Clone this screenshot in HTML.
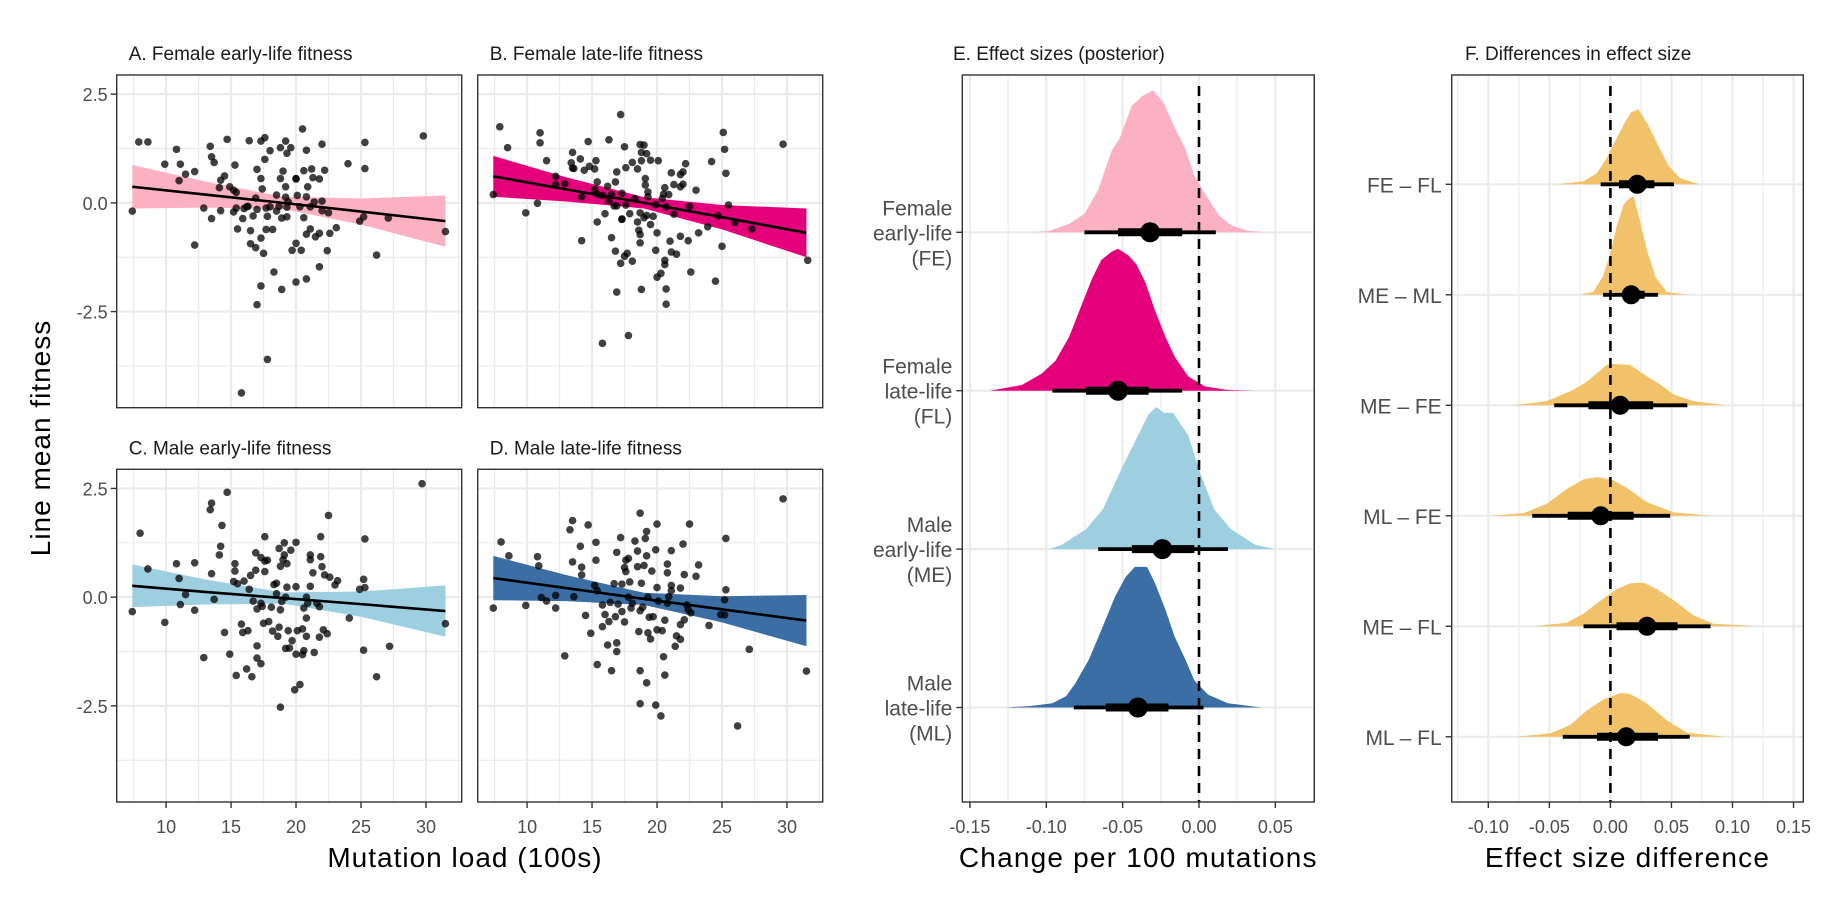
<!DOCTYPE html>
<html><head><meta charset="utf-8"><style>
html,body{margin:0;padding:0;background:#fff;}
svg{display:block;font-family:"Liberation Sans",sans-serif;}
</style></head><body>
<svg id="fig" width="1833" height="902" viewBox="0 0 1833 902" xmlns="http://www.w3.org/2000/svg"></svg>
<script>
// ---------- DATA ----------
const ptsA = [[7.4,-0.19],[7.9,1.40],[8.6,1.40],[9.9,0.89],[10.8,1.23],[11.1,0.89],[11.0,0.51],[11.5,0.66],[12.2,0.72],[12.2,-0.97],[12.9,-0.12],[13.4,1.30],[13.5,1.06],[13.7,0.93],[13.5,-0.36],[14.1,0.35],[14.2,0.52],[14.5,0.62],[14.2,-0.18],[14.7,1.46],[14.9,0.37],[15.2,0.29],[15.3,0.87],[15.4,0.24],[15.2,-0.21],[15.4,-0.12],[15.5,-0.60],[15.9,-0.36],[16.0,-0.13],[16.2,-0.09],[16.4,1.43],[16.3,-0.08],[16.5,-0.64],[16.5,-0.94],[16.7,-0.30],[16.9,-1.03],[17.0,-0.15],[16.9,0.11],[17.0,0.77],[17.3,1.42],[17.3,0.56],[17.4,0.32],[17.6,1.50],[17.6,1.00],[17.5,-1.16],[17.3,-0.81],[17.7,-0.12],[17.8,-0.31],[17.7,-0.61],[18.2,-0.61],[18.0,1.20],[18.0,-0.09],[18.3,-1.59],[18.5,-0.19],[18.5,0.18],[18.7,-0.08],[18.8,0.56],[18.8,1.27],[18.9,-0.35],[18.9,-1.99],[19.0,0.73],[19.2,1.42],[19.2,0.37],[19.2,0.13],[19.3,-0.10],[19.3,-0.32],[19.3,1.14],[19.4,0.02],[19.6,1.27],[19.7,-1.09],[20.0,-0.93],[20.0,-1.82],[20.0,0.55],[20.1,0.17],[20.3,-0.09],[20.4,-1.09],[20.5,1.70],[20.6,-0.34],[20.6,0.74],[20.8,-1.75],[20.8,1.21],[20.8,-0.72],[20.8,0.14],[20.9,0.37],[21.1,-0.09],[21.1,-0.60],[21.2,0.78],[21.3,0.58],[21.4,0.02],[21.5,-0.78],[21.8,0.55],[21.8,-0.70],[21.8,-1.47],[22.0,0.04],[22.0,1.35],[22.0,-0.18],[22.2,0.75],[22.4,-1.10],[22.5,-0.23],[22.6,-0.70],[23.1,-0.57],[24.0,0.90],[24.9,-0.42],[25.2,-0.32],[25.3,1.39],[25.3,0.79],[26.2,-1.20],[27.1,-0.35],[17.3,-1.91],[17.0,-2.34],[20.0,0.56],[15.8,-4.37],[17.8,-3.6],[29.8,1.54],[31.5,-0.66]];
const ptsB = [[7.4,0.19],[7.9,1.75],[8.5,1.27],[9.9,-0.23],[10.8,-0.01],[11.0,1.38],[11.0,1.61],[11.5,0.97],[12.2,0.61],[12.2,0.42],[12.9,0.44],[13.4,0.92],[13.5,1.16],[13.5,0.80],[13.6,0.79],[14.1,1.01],[14.2,0.14],[14.2,-0.87],[14.4,0.75],[14.7,1.41],[14.8,0.84],[15.2,0.78],[15.3,0.97],[15.2,0.31],[15.4,0.48],[15.4,0.20],[15.4,-0.44],[15.8,0.17],[16.0,-0.25],[16.2,0.38],[16.3,0.05],[16.3,1.45],[16.5,0.19],[16.5,-0.80],[16.7,-0.07],[16.8,0.48],[16.8,-1.11],[16.9,0.71],[16.9,-0.07],[16.9,-2.05],[17.2,2.03],[17.3,-0.37],[17.2,-1.39],[17.3,0.22],[17.3,-0.38],[17.5,-1.23],[17.5,1.29],[17.6,0.81],[17.6,-0.05],[17.7,-1.16],[17.8,-3.05],[17.9,-0.25],[18.1,0.93],[18.1,-1.34],[18.3,0.10],[18.5,0.78],[18.5,-0.44],[18.6,-0.63],[18.7,-0.73],[18.7,-0.92],[18.7,1.34],[18.7,-0.23],[18.8,1.16],[18.8,0.97],[18.8,-1.99],[19.0,1.33],[19.0,-0.34],[19.1,0.56],[19.1,0.41],[19.2,1.13],[19.2,-0.29],[19.3,0.14],[19.3,0.25],[19.5,-0.50],[19.5,0.98],[19.7,-0.31],[19.9,-1.09],[19.9,-0.04],[20.0,-1.71],[20.0,-0.69],[20.1,0.97],[20.3,-1.62],[20.4,0.10],[20.5,0.20],[20.6,0.35],[20.6,-1.32],[20.6,-1.42],[20.7,-1.98],[20.7,-2.33],[20.7,-0.09],[20.9,0.19],[21.0,-0.88],[21.1,-1.13],[21.1,0.69],[21.3,-0.26],[21.3,0.42],[21.5,-1.18],[21.8,0.37],[21.8,-0.77],[21.8,0.65],[22.0,0.43],[22.0,0.71],[22.2,0.90],[22.4,-0.87],[22.5,-0.08],[22.6,-1.59],[23.0,0.29],[23.2,-0.69],[15.8,-3.23],[25.1,1.62],[25.2,1.23],[24.7,-0.30],[24.2,0.95],[23.9,-0.55],[25.3,0.68],[25.5,-0.05],[26.0,-0.45],[24.5,-1.8],[29.7,1.35],[31.6,-1.32],[27.3,-0.6],[25.0,-1.0]];
const ptsC = [[7.4,-0.33],[8.0,1.47],[8.6,0.65],[9.9,-0.58],[10.8,0.77],[11.0,0.43],[11.1,-0.17],[11.5,0.06],[12.2,0.79],[12.2,-0.30],[12.9,-1.39],[13.5,2.16],[13.4,2.01],[13.5,0.54],[13.7,-0.05],[14.1,0.97],[14.2,1.17],[14.3,1.65],[14.5,-0.81],[14.7,2.41],[14.9,-1.31],[15.2,0.36],[15.3,0.77],[15.3,0.60],[15.4,-1.80],[15.5,0.31],[15.8,-0.62],[15.9,-0.81],[16.0,0.37],[16.2,-1.65],[16.3,-0.77],[16.4,0.18],[16.5,0.50],[16.6,-1.83],[16.7,-0.09],[16.9,0.62],[16.9,1.02],[17.0,-1.12],[17.0,-0.27],[17.0,-1.40],[17.3,0.91],[17.3,-1.53],[17.3,-0.14],[17.4,-0.21],[17.5,-0.60],[17.6,0.83],[17.6,1.39],[17.6,0.59],[17.8,0.85],[17.9,-0.56],[18.1,-0.23],[18.2,-0.78],[18.3,0.29],[18.5,0.32],[18.5,0.08],[18.6,-0.90],[18.7,1.12],[18.7,-0.69],[18.8,-2.53],[18.8,-0.29],[18.8,0.71],[18.9,-0.10],[19.0,0.86],[19.1,0.97],[19.1,1.25],[19.2,-1.18],[19.2,0.00],[19.3,0.77],[19.3,0.23],[19.4,-0.77],[19.5,-1.17],[19.6,1.08],[19.7,-1.00],[19.9,-2.13],[20.0,1.26],[20.0,0.24],[20.0,-1.31],[20.1,-0.77],[20.3,-2.01],[20.5,-1.32],[20.5,-0.73],[20.6,-0.25],[20.6,-1.23],[20.8,0.00],[20.8,-0.90],[20.8,-0.48],[20.9,-0.14],[21.1,0.97],[21.1,0.86],[21.1,0.25],[21.3,0.56],[21.4,-1.27],[21.6,-0.14],[21.8,-0.92],[21.8,-0.22],[21.9,0.93],[21.9,1.39],[22.0,0.70],[22.1,-0.75],[22.2,0.51],[22.4,-0.84],[22.5,1.88],[22.6,0.46],[23.0,0.28],[23.2,0.38],[24.1,-0.48],[24.9,0.18],[25.2,-1.22],[25.2,0.41],[25.3,0.22],[25.3,1.34],[26.2,-1.83],[27.2,-1.13],[29.7,2.61],[31.5,-0.61]];
const ptsD = [[7.4,-0.25],[8.0,1.27],[8.6,0.95],[9.9,-0.19],[10.8,0.93],[10.9,0.72],[11.1,-0.01],[11.5,-0.09],[12.2,0.04],[12.2,-0.25],[12.9,-1.35],[13.5,1.76],[13.3,1.55],[13.5,0.81],[13.6,0.01],[14.1,1.17],[14.2,0.69],[14.2,0.51],[14.5,-0.42],[14.7,1.66],[14.9,-0.83],[15.2,0.27],[15.3,1.26],[15.3,0.85],[15.4,-1.55],[15.4,0.15],[15.8,-0.18],[15.8,-0.68],[16.0,-0.40],[16.2,-1.10],[16.3,-0.56],[16.4,-0.12],[16.5,-1.69],[16.7,0.31],[16.9,1.03],[16.8,-0.45],[16.9,-1.05],[16.9,-1.25],[17.0,-0.16],[17.2,1.37],[17.3,-0.33],[17.3,0.30],[17.5,-0.57],[17.5,0.68],[17.6,0.59],[17.6,0.85],[17.8,0.89],[17.8,0.00],[17.9,0.35],[18.0,-0.25],[18.1,-0.14],[18.3,1.29],[18.5,0.70],[18.5,1.06],[18.6,-0.79],[18.7,-1.69],[18.7,-0.31],[18.7,1.93],[18.7,-2.45],[18.8,0.32],[18.9,-0.23],[19.0,0.73],[19.1,1.35],[19.2,-1.97],[19.2,0.95],[19.2,1.51],[19.3,0.00],[19.3,-0.82],[19.4,-0.46],[19.5,-0.96],[19.6,0.60],[19.7,-0.45],[19.9,-2.48],[19.9,1.09],[20.0,1.68],[20.0,0.22],[20.0,-0.75],[20.1,-0.09],[20.3,-2.73],[20.4,-0.77],[20.5,-1.37],[20.6,-0.53],[20.6,-1.79],[20.8,0.76],[20.8,0.56],[20.8,-0.14],[20.9,0.01],[21.1,0.15],[21.1,1.07],[21.1,0.27],[21.4,-1.13],[21.5,-0.89],[21.8,-0.63],[21.8,0.21],[21.8,-0.97],[22.0,1.22],[22.1,0.52],[22.1,-0.52],[22.3,-0.18],[22.4,-0.29],[22.5,1.68],[22.6,-0.36],[23.0,0.48],[23.2,0.74],[24.0,-0.65],[24.9,-0.40],[25.2,-0.41],[25.2,-0.06],[25.3,0.17],[25.3,1.35],[26.2,-2.96],[27.1,-1.20],[29.7,2.26],[31.5,-1.70]];

const fitX = [7.4,13,19,25,31.5];
const fitA = [0.37,0.19,0.0,-0.2,-0.42];   const bandA = [0.5,0.3,0.14,0.3,0.59];
const fitB = [0.61,0.31,0.0,-0.33,-0.69];  const bandB = [0.47,0.28,0.13,0.28,0.56];
const fitC = [0.26,0.12,-0.02,-0.16,-0.32]; const bandC = [0.49,0.29,0.13,0.29,0.59];
const fitD = [0.44,0.21,-0.04,-0.28,-0.54]; const bandD = [0.51,0.3,0.14,0.3,0.59];

const xTicksScatter = [10,15,20,25,30];
const yTicksScatter = [2.5,0.0,-2.5];
const yTickLabelsScatter = ["2.5","0.0","-2.5"];

// Panel E
const effCats = [["Female","early-life","(FE)"],["Female","late-life","(FL)"],["Male","early-life","(ME)"],["Male","late-life","(ML)"]];
const effDensX = [
 [-0.109,-0.098,-0.085,-0.075,-0.066,-0.057,-0.052,-0.044,-0.037,-0.030,-0.023,-0.016,-0.009,-0.003,0.004,0.013,0.021,0.032,0.045],
 [-0.137,-0.116,-0.103,-0.094,-0.085,-0.077,-0.070,-0.064,-0.057,-0.053,-0.046,-0.041,-0.035,-0.029,-0.022,-0.016,-0.007,0.004,0.019,0.037],
 [-0.098,-0.090,-0.074,-0.063,-0.051,-0.040,-0.033,-0.028,-0.023,-0.017,-0.012,-0.007,0.001,0.010,0.021,0.037,0.050],
 [-0.127,-0.111,-0.096,-0.087,-0.081,-0.072,-0.063,-0.055,-0.048,-0.042,-0.034,-0.029,-0.022,-0.016,-0.009,-0.003,0.006,0.019,0.041]];
const effDensY = [
 [0,0.01,0.06,0.13,0.30,0.58,0.66,0.89,0.96,1.0,0.91,0.74,0.59,0.40,0.27,0.12,0.05,0.01,0],
 [0,0.04,0.12,0.21,0.38,0.60,0.79,0.92,0.98,1.0,0.95,0.89,0.76,0.57,0.38,0.24,0.10,0.03,0.005,0],
 [0,0.03,0.14,0.28,0.56,0.8,0.95,1.0,0.96,0.96,0.88,0.8,0.53,0.28,0.14,0.03,0],
 [0,0.01,0.03,0.08,0.17,0.34,0.57,0.78,0.92,0.99,0.99,0.88,0.69,0.50,0.34,0.19,0.09,0.03,0]];
const effMedian = [-0.032,-0.053,-0.024,-0.040];
const effLo66 = [-0.053,-0.074,-0.044,-0.061];
const effHi66 = [-0.011,-0.033,-0.003,-0.020];
const effLo95 = [-0.075,-0.096,-0.066,-0.082];
const effHi95 = [0.011,-0.011,0.019,0.003];
const effColors = ["#fbb1c2","#e4007a","#9ecfe0","#3a6ea5"];
const effTicks = [-0.15,-0.10,-0.05,0.00,0.05];
const effTickLabels = ["-0.15","-0.10","-0.05","0.00","0.05"];

// Panel F
const difCats = ["FE – FL","ME – ML","ME – FE","ML – FE","ME – FL","ML – FL"];
const difDensX = [
 [-0.044,-0.022,-0.011,-0.003,0.005,0.012,0.017,0.023,0.031,0.039,0.048,0.057,0.073],
 [-0.025,-0.014,-0.006,0,0.005,0.011,0.016,0.019,0.024,0.030,0.037,0.046,0.063],
 [-0.080,-0.052,-0.030,-0.019,-0.003,0.002,0.016,0.030,0.041,0.052,0.068,0.095],
 [-0.099,-0.071,-0.052,-0.036,-0.022,-0.011,0.002,0.013,0.030,0.052,0.084],
 [-0.063,-0.036,-0.022,-0.008,0.005,0.016,0.027,0.038,0.052,0.068,0.084,0.120],
 [-0.077,-0.049,-0.033,-0.019,-0.006,0.008,0.016,0.030,0.046,0.063,0.095]];
const difDensY = [
 [0,0.04,0.15,0.35,0.61,0.83,0.96,1,0.79,0.52,0.24,0.08,0],
 [0,0.03,0.19,0.42,0.69,0.92,0.98,1.0,0.76,0.45,0.18,0.03,0],
 [0,0.10,0.38,0.58,0.98,1,0.98,0.70,0.50,0.26,0.10,0],
 [0,0.07,0.31,0.69,0.94,1,0.92,0.73,0.35,0.09,0],
 [0,0.08,0.29,0.59,0.85,0.98,1,0.85,0.59,0.25,0.06,0],
 [0,0.08,0.27,0.61,0.85,1,0.98,0.76,0.38,0.09,0]];
const difPeak = [0.60,0.79,0.33,0.31,0.35,0.35];
const difMedian = [0.022,0.017,0.008,-0.008,0.030,0.013];
const difLo66 = [0.007,0.010,-0.018,-0.035,0.005,-0.011];
const difHi66 = [0.036,0.028,0.035,0.019,0.055,0.039];
const difLo95 = [-0.008,-0.006,-0.046,-0.064,-0.022,-0.039];
const difHi95 = [0.052,0.039,0.063,0.049,0.082,0.065];
const difTicks = [-0.10,-0.05,0.00,0.05,0.10,0.15];
const difTickLabels = ["-0.10","-0.05","0.00","0.05","0.10","0.15"];

// ---------- RENDER ----------
const NS = "http://www.w3.org/2000/svg";
const svg = document.getElementById("fig");
function mk(tag, attrs, parent){
  const e = document.createElementNS(NS, tag);
  for (const k in attrs) e.setAttribute(k, attrs[k]);
  (parent||svg).appendChild(e);
  return e;
}
function txt(s, x, y, size, anchor, fill, parent){
  const t = mk("text", {x:x, y:y, "font-size":size, "text-anchor":anchor||"middle", fill:fill||"#4d4d4d"}, parent);
  t.textContent = s;
  return t;
}
const GRID = "#ebebeb";

function scatterPanel(cfg){
  const g = mk("g", {});
  
  
  const {x0,y0,w,h} = cfg;
  const xd=[6.2,32.75], yd=[-4.71,2.94];
  const sx = v => x0 + (v-xd[0])/(xd[1]-xd[0])*w;
  const sy = v => y0 + h - (v-yd[0])/(yd[1]-yd[0])*h;
  [7.5,12.5,17.5,22.5,27.5,32.5].forEach(v=>mk("line",{x1:sx(v),x2:sx(v),y1:y0,y2:y0+h,stroke:GRID,"stroke-width":1.2},g));
  [1.25,-1.25,-3.75].forEach(v=>mk("line",{x1:x0,x2:x0+w,y1:sy(v),y2:sy(v),stroke:GRID,"stroke-width":1.2},g));
  xTicksScatter.forEach(v=>mk("line",{x1:sx(v),x2:sx(v),y1:y0,y2:y0+h,stroke:GRID,"stroke-width":2.2},g));
  yTicksScatter.forEach(v=>mk("line",{x1:x0,x2:x0+w,y1:sy(v),y2:sy(v),stroke:GRID,"stroke-width":2.2},g));
  let d = "";
  fitX.forEach((v,i)=>{ d += (i?"L":"M")+sx(v)+","+sy(cfg.fit[i]+cfg.band[i]); });
  for (let i=fitX.length-1;i>=0;i--) d += "L"+sx(fitX[i])+","+sy(cfg.fit[i]-cfg.band[i]);
  const band = mk("path",{d:d+"Z",fill:cfg.color},g);
  
  
  cfg.pts.forEach(p=>{
    const c = mk("circle",{cx:sx(p[0]),cy:sy(p[1]),r:3.8,fill:"#000","fill-opacity":0.75},g);
    
    
  });
  let ld = "";
  fitX.forEach((v,i)=>{ ld += (i?"L":"M")+sx(v)+","+sy(cfg.fit[i]); });
  const ln = mk("path",{d:ld,fill:"none",stroke:"#000","stroke-width":2.6},g);
  
  
  mk("rect",{x:x0,y:y0,width:w,height:h,fill:"none",stroke:"#333","stroke-width":1.4},g);
  const tt = txt(cfg.title, x0+12, y0-15, 19, "start", "#1a1a1a", g);
  
  
  if (cfg.yLabels){
    yTicksScatter.forEach((v,i)=>{
      mk("line",{x1:x0-6,x2:x0,y1:sy(v),y2:sy(v),stroke:"#333","stroke-width":1.4},g);
      const t = txt(yTickLabelsScatter[i], x0-9, sy(v)+7, 18, "end", "#4d4d4d", g);
      
      
    });
  }
  if (cfg.xLabels){
    xTicksScatter.forEach(v=>{
      mk("line",{x1:sx(v),x2:sx(v),y1:y0+h,y2:y0+h+6,stroke:"#333","stroke-width":1.4},g);
      const t = txt(String(v), sx(v), y0+h+31, 18, "middle", "#4d4d4d", g);
      
      
    });
  }
}
scatterPanel({name:"panel-a",x0:116.7,y0:75,w:345,h:332.7,pts:ptsA,fit:fitA,band:bandA,color:"#fbb1c2",title:"A. Female early-life fitness",yLabels:true,xLabels:false});
scatterPanel({name:"panel-b",x0:477.7,y0:75,w:345,h:332.7,pts:ptsB,fit:fitB,band:bandB,color:"#e4007a",title:"B. Female late-life fitness",yLabels:false,xLabels:false});
scatterPanel({name:"panel-c",x0:116.7,y0:469.3,w:345,h:332.7,pts:ptsC,fit:fitC,band:bandC,color:"#9ecfe0",title:"C. Male early-life fitness",yLabels:true,xLabels:true});
scatterPanel({name:"panel-d",x0:477.7,y0:469.3,w:345,h:332.7,pts:ptsD,fit:fitD,band:bandD,color:"#3a6ea5",title:"D. Male late-life fitness",yLabels:false,xLabels:true});

const yt = txt("Line mean fitness", 0, 0, 28, "middle", "#000");
yt.setAttribute("transform","translate(50,438) rotate(-90)");
yt.setAttribute("letter-spacing","1");


const xt = txt("Mutation load (100s)", 465, 867, 28, "middle", "#000");
xt.setAttribute("letter-spacing","1");



function intervalPanel(cfg){
  const g = mk("g", {});
  
  
  const {x0,x1,y0,y1,xd} = cfg;
  const sx = v => x0 + (v-xd[0])/(xd[1]-xd[0])*(x1-x0);
  const rowY = i => cfg.row0 + i*cfg.rowStep;
  cfg.minor.forEach(v=>mk("line",{x1:sx(v),x2:sx(v),y1:y0,y2:y1,stroke:GRID,"stroke-width":1.2},g));
  cfg.ticks.forEach(v=>mk("line",{x1:sx(v),x2:sx(v),y1:y0,y2:y1,stroke:GRID,"stroke-width":2.2},g));
  cfg.cats.forEach((c,i)=>mk("line",{x1:x0,x2:x1,y1:rowY(i),y2:rowY(i),stroke:GRID,"stroke-width":2.2},g));
  cfg.cats.forEach((c,i)=>{
    const by = rowY(i), H = cfg.peak(i);
    let d = "M"+sx(cfg.dx[i][0])+","+by;
    cfg.dx[i].forEach((v,j)=>{ d += "L"+sx(v)+","+(by - cfg.dy[i][j]*H); });
    d += "L"+sx(cfg.dx[i][cfg.dx[i].length-1])+","+by+"Z";
    const p = mk("path",{d:d,fill:cfg.color(i)},g);
    
    
  });
  const dl = mk("line",{x1:sx(0),x2:sx(0),y1:y0+11,y2:y1,stroke:"#000","stroke-width":2.6,"stroke-dasharray":"10,7"},g);
  
  
  cfg.cats.forEach((c,i)=>{
    const by = rowY(i);
    const l95 = mk("line",{x1:sx(cfg.lo95[i]),x2:sx(cfg.hi95[i]),y1:by,y2:by,stroke:"#000","stroke-width":3.8},g);
    
    
    const l66 = mk("line",{x1:sx(cfg.lo66[i]),x2:sx(cfg.hi66[i]),y1:by,y2:by,stroke:"#000","stroke-width":8},g);
    
    
    const pt = mk("circle",{cx:sx(cfg.med[i]),cy:by,r:cfg.r,fill:"#000"},g);
    
    
    mk("line",{x1:x0-6,x2:x0,y1:by,y2:by,stroke:"#333","stroke-width":1.4},g);
    const lines = Array.isArray(c) ? c : [c];
    lines.forEach((s,k)=>{
      const t = txt(s, x0-10, by+8+(k-(lines.length-1)/2)*25, 21, "end", "#4d4d4d", g);
      
      
    });
  });
  mk("rect",{x:x0,y:y0,width:x1-x0,height:y1-y0,fill:"none",stroke:"#333","stroke-width":1.4},g);
  cfg.ticks.forEach((v,i)=>{
    mk("line",{x1:sx(v),x2:sx(v),y1:y1,y2:y1+6,stroke:"#333","stroke-width":1.4},g);
    const t = txt(cfg.tickLabels[i], sx(v), y1+31, 18, "middle", "#4d4d4d", g);
    
    
  });
  const tt = txt(cfg.title, cfg.titleX, y0-15, 19, "start", "#1a1a1a", g);
  
  
  const at = txt(cfg.xTitle, (x0+x1)/2, 867, 28, "middle", "#000", g);
  at.setAttribute("letter-spacing","1.2");
  
  
}
intervalPanel({name:"panel-e",x0:962.3,x1:1314.3,y0:75,y1:802,xd:[-0.155,0.0755],row0:232.3,rowStep:158.4,
  cats:effCats,dx:effDensX,dy:effDensY,peak:i=>142,color:i=>effColors[i],
  med:effMedian,lo66:effLo66,hi66:effHi66,lo95:effLo95,hi95:effHi95,r:10,
  ticks:effTicks,tickLabels:effTickLabels,minor:[-0.125,-0.075,-0.025,0.025,0.075],
  title:"E. Effect sizes (posterior)",titleX:953,xTitle:"Change per 100 mutations"});
intervalPanel({name:"panel-f",x0:1451.7,x1:1803.3,y0:75,y1:802,xd:[-0.130,0.158],row0:184.3,rowStep:110.5,
  cats:difCats,dx:difDensX,dy:difDensY,peak:i=>difPeak[i]*125,color:i=>"#f2c26b",
  med:difMedian,lo66:difLo66,hi66:difHi66,lo95:difLo95,hi95:difHi95,r:9.5,
  ticks:difTicks,tickLabels:difTickLabels,minor:[-0.125,-0.075,-0.025,0.025,0.075,0.125],
  title:"F. Differences in effect size",titleX:1465,xTitle:"Effect size difference"});
</script>
</body></html>
